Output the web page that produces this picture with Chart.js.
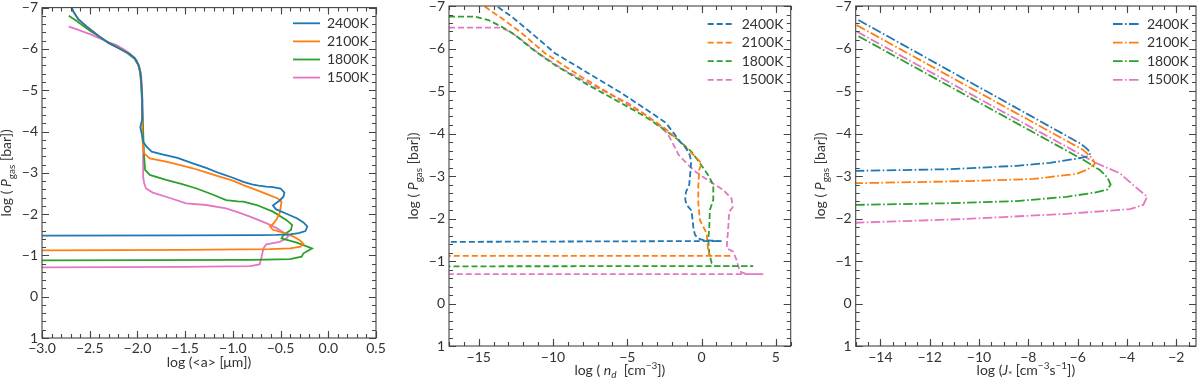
<!DOCTYPE html>
<html>
<head>
<meta charset="utf-8">
<script src="https://cdn.jsdelivr.net/npm/chart.js@4.4.1/dist/chart.umd.min.js"></script>
<style>
  html, body { margin: 0; padding: 0; background: #fff; }
  #wrap { position: relative; width: 1200px; height: 384px; }
  canvas { position: absolute; top: 0; }
</style>
</head>
<body>
<div id="wrap">
  <canvas id="c1" width="400" height="384" style="left:0"></canvas>
  <canvas id="c2" width="400" height="384" style="left:400px"></canvas>
  <canvas id="c3" width="400" height="384" style="left:800px"></canvas>
</div>
<script>
const temps = ['2400K', '2100K', '1800K', '1500K'];
const colours = ['#1f77b4', '#ff7f0e', '#2ca02c', '#e377c2'];

// tick labels
const pTicks = [-7, -6, -5, -4, -3, -2, -1, 0, 1];
const aTicks = [-3.0, -2.5, -2.0, -1.5, -1.0, -0.5, 0.0, 0.5];
const nTicks = [-15, -10, -5, 0, 5];
const jTicks = [-14, -12, -10, -8, -6, -4, -2];

// panel 1: log <a> [um] vs log Pgas
const a2400 = [[-2.71,-7.10],[-2.67,-6.90],[-2.62,-6.72],[-2.53,-6.54],[-2.40,-6.30],[-2.30,-6.14],[-2.20,-6.02],[-2.10,-5.90],[-2.03,-5.78],[-1.99,-5.62],[-1.97,-5.45],[-1.96,-5.20],[-1.95,-4.80],[-1.95,-4.30],[-1.97,-4.10],[-1.95,-3.90],[-1.94,-3.75],[-1.90,-3.62],[-1.85,-3.51],[-1.73,-3.44],[-1.58,-3.36],[-1.42,-3.23],[-1.28,-3.12],[-1.14,-2.99],[-1.00,-2.88],[-0.89,-2.78],[-0.80,-2.72],[-0.73,-2.69],[-0.65,-2.665],[-0.58,-2.655],[-0.50,-2.62],[-0.46,-2.52],[-0.47,-2.42],[-0.51,-2.33],[-0.58,-2.21],[-0.55,-2.12],[-0.45,-2.02],[-0.33,-1.90],[-0.26,-1.80],[-0.22,-1.70],[-0.24,-1.59],[-0.31,-1.54],[-0.40,-1.51],[-0.55,-1.495],[-0.72,-1.49],[-1.50,-1.485],[-3.00,-1.48]];
const a2100 = [[-2.71,-7.10],[-2.67,-6.90],[-2.62,-6.72],[-2.53,-6.54],[-2.40,-6.30],[-2.30,-6.14],[-2.20,-6.02],[-2.10,-5.90],[-2.03,-5.78],[-1.99,-5.62],[-1.97,-5.45],[-1.96,-5.20],[-1.95,-4.80],[-1.95,-4.30],[-1.95,-3.90],[-1.94,-3.60],[-1.93,-3.47],[-1.87,-3.35],[-1.70,-3.27],[-1.56,-3.19],[-1.42,-3.11],[-1.28,-3.01],[-1.14,-2.91],[-1.00,-2.81],[-0.89,-2.70],[-0.77,-2.60],[-0.65,-2.49],[-0.53,-2.38],[-0.49,-2.30],[-0.50,-2.15],[-0.51,-2.02],[-0.54,-1.88],[-0.58,-1.76],[-0.61,-1.70],[-0.58,-1.62],[-0.50,-1.57],[-0.44,-1.53],[-0.36,-1.45],[-0.30,-1.37],[-0.26,-1.28],[-0.29,-1.21],[-0.40,-1.17],[-0.61,-1.15],[-1.50,-1.135],[-3.00,-1.12]];
const a1800 = [[-2.72,-6.80],[-2.64,-6.68],[-2.57,-6.56],[-2.49,-6.43],[-2.40,-6.30],[-2.30,-6.15],[-2.20,-6.03],[-2.10,-5.89],[-2.03,-5.76],[-1.99,-5.60],[-1.97,-5.40],[-1.96,-5.10],[-1.95,-4.60],[-1.94,-4.00],[-1.93,-3.40],[-1.92,-3.07],[-1.87,-2.95],[-1.70,-2.83],[-1.54,-2.73],[-1.38,-2.62],[-1.22,-2.48],[-1.07,-2.34],[-0.95,-2.31],[-0.89,-2.30],[-0.75,-2.22],[-0.58,-2.06],[-0.44,-1.86],[-0.38,-1.74],[-0.39,-1.62],[-0.47,-1.49],[-0.49,-1.41],[-0.33,-1.31],[-0.17,-1.17],[-0.23,-1.09],[-0.26,-1.05],[-0.28,-0.97],[-0.40,-0.91],[-0.80,-0.89],[-3.00,-0.88]];
const a1500 = [[-2.72,-6.54],[-2.64,-6.48],[-2.57,-6.42],[-2.49,-6.35],[-2.40,-6.26],[-2.30,-6.16],[-2.22,-6.09],[-2.15,-6.00],[-2.08,-5.89],[-2.01,-5.73],[-1.98,-5.57],[-1.96,-5.33],[-1.95,-4.92],[-1.94,-4.12],[-1.94,-3.40],[-1.94,-2.90],[-1.93,-2.75],[-1.91,-2.62],[-1.84,-2.52],[-1.70,-2.42],[-1.49,-2.26],[-1.28,-2.22],[-1.07,-2.14],[-0.95,-2.05],[-0.82,-1.94],[-0.65,-1.78],[-0.54,-1.66],[-0.46,-1.54],[-0.42,-1.46],[-0.44,-1.41],[-0.51,-1.33],[-0.65,-1.27],[-0.68,-1.17],[-0.70,-0.95],[-0.72,-0.78],[-0.82,-0.74],[-1.50,-0.72],[-3.00,-0.71]];

// panel 2: log n_d [cm^-3] vs log Pgas
const n2400 = [[-14.20,-7.10],[-13.68,-6.97],[-12.78,-6.75],[-11.44,-6.36],[-9.87,-5.89],[-7.63,-5.42],[-5.38,-4.95],[-3.36,-4.48],[-2.40,-4.25],[-1.90,-4.02],[-1.45,-3.81],[-1.10,-3.68],[-0.80,-3.50],[-0.70,-3.35],[-0.74,-3.14],[-0.83,-2.80],[-1.05,-2.62],[-1.10,-2.45],[-1.00,-2.32],[-0.67,-2.18],[-0.56,-1.81],[-0.45,-1.62],[-0.22,-1.53],[0.11,-1.49],[1.35,-1.47],[-17.00,-1.45]];
const n2100 = [[-15.10,-7.10],[-14.58,-6.98],[-13.45,-6.71],[-12.10,-6.36],[-10.54,-5.89],[-8.30,-5.38],[-6.05,-4.91],[-3.81,-4.44],[-2.46,-4.12],[-1.34,-3.77],[-0.70,-3.55],[-0.33,-3.42],[0.00,-3.30],[-0.16,-3.14],[-0.22,-2.75],[-0.22,-2.36],[-0.11,-1.96],[0.11,-1.81],[0.34,-1.65],[0.45,-1.22],[0.56,-1.12],[2.02,-1.12],[-17.00,-1.12]];
const n1800 = [[-17.00,-6.75],[-15.25,-6.75],[-14.35,-6.67],[-13.45,-6.51],[-12.56,-6.32],[-11.44,-6.00],[-9.87,-5.61],[-7.63,-5.14],[-5.38,-4.71],[-3.81,-4.40],[-2.46,-4.08],[-1.57,-3.85],[-0.67,-3.57],[-0.11,-3.30],[0.45,-3.02],[0.79,-2.79],[0.79,-2.44],[0.56,-2.20],[0.52,-1.81],[0.45,-1.49],[0.52,-1.18],[0.68,-0.95],[0.90,-0.88],[3.48,-0.88],[-17.00,-0.875]];
const n1500 = [[-17.00,-6.49],[-13.50,-6.49],[-12.90,-6.40],[-12.10,-6.20],[-10.99,-5.89],[-9.42,-5.53],[-7.17,-5.10],[-4.93,-4.71],[-3.59,-4.40],[-2.91,-4.20],[-2.30,-4.00],[-1.95,-3.78],[-1.55,-3.50],[-0.90,-3.26],[-0.40,-3.10],[0.56,-2.87],[1.46,-2.67],[2.02,-2.47],[2.09,-2.26],[1.86,-2.16],[1.80,-1.81],[1.69,-1.30],[2.13,-1.22],[2.36,-1.02],[2.58,-0.75],[3.03,-0.69],[4.15,-0.69],[-17.00,-0.69]];

// panel 3: log J* [cm^-3 s^-1] vs log Pgas
const j2400 = [[-14.89,-6.67],[-5.91,-3.77],[-5.70,-3.68],[-5.57,-3.61],[-5.50,-3.52],[-5.60,-3.46],[-5.91,-3.42],[-7.12,-3.31],[-8.47,-3.24],[-11.18,-3.16],[-15.00,-3.12]];
const j2100 = [[-14.96,-6.55],[-5.77,-3.61],[-5.50,-3.47],[-5.37,-3.38],[-5.30,-3.29],[-5.60,-3.15],[-6.04,-3.05],[-7.80,-2.93],[-10.50,-2.88],[-15.00,-2.83]];
const j1800 = [[-14.89,-6.29],[-5.77,-3.38],[-5.10,-3.14],[-4.80,-2.97],[-4.66,-2.80],[-4.80,-2.68],[-5.30,-2.61],[-6.45,-2.51],[-8.47,-2.41],[-11.18,-2.36],[-15.00,-2.32]];
const j1500 = [[-14.96,-6.40],[-5.23,-3.30],[-4.28,-3.06],[-3.75,-2.79],[-3.34,-2.59],[-3.18,-2.51],[-3.34,-2.32],[-3.88,-2.22],[-6.45,-2.11],[-10.50,-1.99],[-15.00,-1.90]];

// axis titles (segments: i = italic, sub / sup)
const yTitle = [{ t: 'log ( ' }, { t: 'P', i: 1 }, { t: 'gas', sub: 1 }, { t: ' [bar])' }];
const xTitle1 = [{ t: 'log (<a> [μm])' }];
const xTitle2 = [{ t: 'log ( ' }, { t: 'n', i: 1 }, { t: 'd', i: 1, sub: 1 }, { t: '  [cm' }, { t: '−3', sup: 1 }, { t: '])' }];
const xTitle3 = [{ t: 'log (' }, { t: 'J', i: 1 }, { t: '*', sub: 1 }, { t: ' [cm' }, { t: '−3', sup: 1 }, { t: 's' }, { t: '−1', sup: 1 }, { t: '])' }];

const FONT = 'Lato';
const FS = 14;
const TXT = '#333';
const AXC = '#444';
Chart.defaults.font.family = FONT;

const minus = (s) => String(s).replace('-', '−');

function segFont(s, size) {
  const sz = (s.sub || s.sup) ? Math.round(size * 0.72) : size;
  return (s.i ? 'italic ' : '') + sz + 'px ' + FONT;
}

function drawRich(ctx, segs, cx, base, size) {
  let w = 0;
  segs.forEach((s) => { ctx.font = segFont(s, size); w += ctx.measureText(s.t).width; });
  let x = cx - w / 2;
  segs.forEach((s) => {
    ctx.font = segFont(s, size);
    const dy = s.sub ? size * 0.28 : s.sup ? -size * 0.42 : 0;
    ctx.fillText(s.t, x, base + dy);
    x += ctx.measureText(s.t).width;
  });
}

// frame, inward ticks on all four sides, legend and axis titles
const framePlugin = {
  id: 'frame',
  afterDraw(chart, args, o) {
    const { ctx, chartArea: a, scales: { x, y } } = chart;
    ctx.save();
    ctx.strokeStyle = AXC;
    ctx.lineWidth = 1.1;
    ctx.strokeRect(a.left, a.top, a.right - a.left, a.bottom - a.top);

    const range = (sc, step) => {
      const out = [];
      const n = Math.round((sc.max - sc.min) / step);
      for (let k = 0; k <= n; k++) out.push(+(Math.ceil(sc.min / step) * step + k * step).toFixed(6));
      return out.filter((v) => v >= sc.min - 1e-9 && v <= sc.max + 1e-9);
    };
    const xMarks = (vals, len) => vals.forEach((v) => {
      const px = Math.round(x.getPixelForValue(v)) + 0.5;
      ctx.beginPath();
      ctx.moveTo(px, a.bottom); ctx.lineTo(px, a.bottom - len);
      ctx.moveTo(px, a.top); ctx.lineTo(px, a.top + len);
      ctx.stroke();
    });
    const yMarks = (vals, len) => vals.forEach((v) => {
      const py = Math.round(y.getPixelForValue(v)) + 0.5;
      ctx.beginPath();
      ctx.moveTo(a.left, py); ctx.lineTo(a.left + len, py);
      ctx.moveTo(a.right, py); ctx.lineTo(a.right - len, py);
      ctx.stroke();
    });
    xMarks(range(x, o.xMinor), 4);
    yMarks(range(y, 0.2), 4);
    xMarks(x.ticks.map((t) => t.value), 7);
    yMarks(y.ticks.map((t) => t.value), 7);

    // legend
    ctx.lineWidth = 1.8;
    ctx.font = FS + 'px ' + FONT;
    ctx.textBaseline = 'middle';
    ctx.textAlign = 'left';
    chart.data.datasets.forEach((ds, i) => {
      const ly = a.top + o.legY + i * o.legDy;
      ctx.strokeStyle = ds.borderColor;
      ctx.setLineDash(ds.borderDash || []);
      ctx.beginPath();
      ctx.moveTo(a.right - 83, ly);
      ctx.lineTo(a.right - 56, ly);
      ctx.stroke();
      ctx.fillStyle = TXT;
      ctx.fillText(ds.label, a.right - 49, ly);
    });
    ctx.setLineDash([]);

    // axis titles
    ctx.fillStyle = TXT;
    ctx.textBaseline = 'alphabetic';
    drawRich(ctx, o.xTitle, (a.left + a.right) / 2, a.bottom + 28.5, FS);
    ctx.translate(a.left - 31, (a.top + a.bottom) / 2);
    ctx.rotate(-Math.PI / 2);
    drawRich(ctx, yTitle, 0, 0, FS);
    ctx.restore();
  },
};

function panel(id, series, o) {
  return new Chart(document.getElementById(id), {
    type: 'line',
    data: {
      datasets: series.map((pts, i) => ({
        label: temps[i],
        data: pts.map((p) => ({ x: p[0], y: p[1] })),
        borderColor: colours[i],
        borderWidth: 1.8,
        borderDash: o.dash,
        borderCapStyle: 'butt',
        pointRadius: 0,
        tension: 0,
        fill: false,
      })),
    },
    options: {
      responsive: false,
      animation: false,
      layout: { padding: { left: 0, right: o.padRight, top: o.padTop, bottom: 0 } },
      plugins: {
        legend: { display: false },
        tooltip: { enabled: false },
        frame: o,
      },
      scales: {
        x: {
          type: 'linear',
          min: o.xMin,
          max: o.xMax,
          grid: { display: false, drawTicks: false },
          border: { display: false },
          ticks: {
            color: TXT,
            font: { family: FONT, size: FS },
            padding: o.xPad,
            maxRotation: 0,
            callback: (v) => minus(o.xFmt(v)),
          },
          afterBuildTicks: (s) => { s.ticks = o.xTicks.map((v) => ({ value: v })); },
          afterFit: (s) => { s.height = 384 - o.bottom; s.paddingLeft = 0; s.paddingRight = 0; },
        },
        y: {
          type: 'linear',
          reverse: true,
          min: -7,
          max: 1,
          grid: { display: false, drawTicks: false },
          border: { display: false },
          ticks: {
            color: TXT,
            font: { family: FONT, size: FS },
            padding: 4,
            callback: (v) => minus(v),
          },
          afterBuildTicks: (s) => { s.ticks = pTicks.map((v) => ({ value: v })); },
          afterFit: (s) => { s.width = o.left; s.paddingTop = 0; s.paddingBottom = 0; },
        },
      },
    },
    plugins: [framePlugin],
  });
}

panel('c1', [a2400, a2100, a1800, a1500], {
  xMin: -3, xMax: 0.5, xTicks: aTicks, xFmt: (v) => v.toFixed(1), xMinor: 0.1,
  left: 42, padRight: 24, padTop: 7.6, bottom: 338, xPad: 2,
  dash: [], legY: 15.7, legDy: 18.1, xTitle: xTitle1,
});
panel('c2', [n2400, n2100, n1800, n1500], {
  xMin: -17, xMax: 6, xTicks: nTicks, xFmt: (v) => String(v), xMinor: 1,
  left: 49, padRight: 9.3, padTop: 6, bottom: 346, xPad: 3,
  dash: [6, 3], legY: 18, legDy: 18.6, xTitle: xTitle2,
});
panel('c3', [j2400, j2100, j1800, j1500], {
  xMin: -15, xMax: -1.2, xTicks: jTicks, xFmt: (v) => String(v), xMinor: 0.5,
  left: 55.7, padRight: 4, padTop: 6, bottom: 346, xPad: 3,
  dash: [9.6, 2.4, 1.6, 2.4], legY: 18, legDy: 18.6, xTitle: xTitle3,
});
</script>
</body>
</html>
